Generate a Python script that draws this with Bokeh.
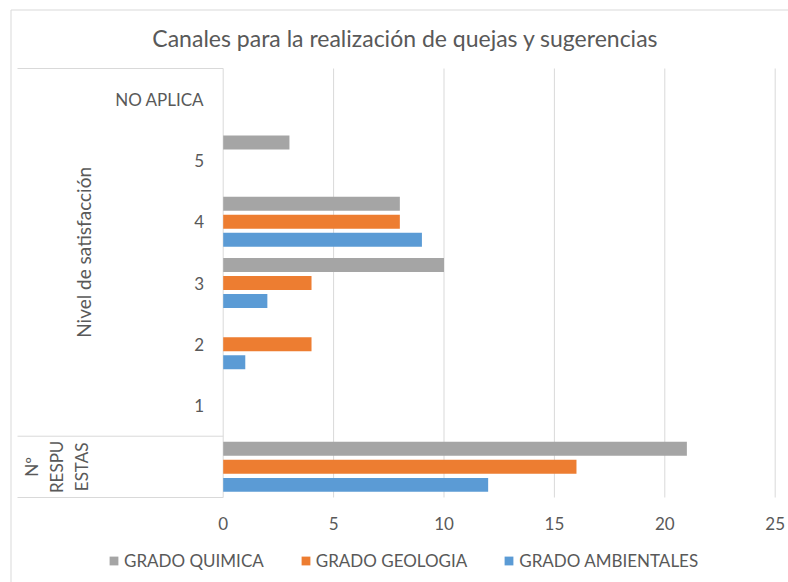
import math
from bokeh.plotting import figure
from bokeh.models import ColumnDataSource, Legend, LegendItem, Range1d
from bokeh.transform import dodge
from bokeh.core.properties import value
from bokeh.embed import file_html
from bokeh.resources import INLINE

# ---------------- data ----------------
title_text = "Canales para la realización de quejas y sugerencias"
groups = ["Nº RESPUESTAS", "Nivel de satisfacción", "Nivel de satisfacción",
          "Nivel de satisfacción", "Nivel de satisfacción", "Nivel de satisfacción",
          "Nivel de satisfacción"]
levels = ["", "1", "2", "3", "4", "5", "NO APLICA"]
series_names = ["GRADO QUIMICA", "GRADO GEOLOGIA", "GRADO AMBIENTALES"]
quimica = [21, 0, 0, 10, 8, 3, 0]
geologia = [16, 0, 4, 4, 8, 0, 0]
ambientales = [12, 0, 1, 2, 9, 0, 0]
x_ticks = [0, 5, 10, 15, 20, 25]

# ---------------- style / layout (pixels) ----------------
FONT = "Lato"
TXT = "#595959"
GRID = "#D9D9D9"
colors = ["#A5A5A5", "#ED7D31", "#5B9BD5"]
offsets = [0.294, 0.0, -0.294]
bar_h = 0.228
W, H = 788, 582
FL, FT = 9, 8                 # frame left / top on the page
X0PX, SX = 222.7, 22.08       # pixel of value 0, pixels per unit
CAT_TOP, CAT_BOT = 68, 497    # pixel edges of the category area


def wrap_chunks(s, n):
    out = []
    for w in s.split():
        out += [w[i:i + n] for i in range(0, len(w), n)]
    return "\n".join(out)


pos = list(range(len(levels)))             # category positions, bottom to top
y_lo, y_hi = pos[0] - 0.5, pos[-1] + 0.5   # edges of the category area
row_px = (CAT_BOT - CAT_TOP) / len(pos)
group_names = list(dict.fromkeys(groups))
group_pos = [sum(p_ for p_, g in zip(pos, groups) if g == gn) / groups.count(gn) for gn in group_names]

x_start, x_end = (FL - X0PX) / SX, (W - X0PX) / SX
y_start, y_end = y_lo - (H - CAT_BOT) / row_px, y_hi + (CAT_TOP - FT) / row_px

p = figure(frame_width=W - FL, frame_height=H - FT,
           y_range=Range1d(y_start, y_end), x_range=Range1d(x_start, x_end),
           output_backend="svg", toolbar_location=None,
           x_axis_location=None, y_axis_location=None,
           min_border_left=FL, min_border_right=0, min_border_top=FT, min_border_bottom=0)
p.outline_line_color = None
p.background_fill_color = "white"
p.border_fill_color = "white"
p.xgrid.visible = False
p.ygrid.visible = False

# chart border (left and top edges visible)
bx = (10.5 - X0PX) / SX
by = y_hi + (CAT_TOP - 9.5) / row_px
p.segment(x0=[bx, bx], y0=[by, by], x1=[bx, x_end], y1=[y_start, by], line_color=GRID, line_width=1)

# vertical grid lines over the category area
p.segment(x0=x_ticks, x1=x_ticks, y0=y_lo, y1=y_hi, line_color=GRID, line_width=1)

src = ColumnDataSource(dict(y=pos, q=quimica, g=geologia, a=ambientales))
renderers = []
for col, color, off in zip(["q", "g", "a"], colors, offsets):
    r = p.hbar(y=dodge("y", off), left=0, right=col, height=bar_h,
               source=src, fill_color=color, line_color=None)
    renderers.append(r)

# category (level) labels
lab_src = ColumnDataSource(dict(y=pos, text=levels))
p.text(x=0, y="y", text="text", source=lab_src, x_offset=-19, text_align="right",
       text_baseline="middle", text_font=value(FONT), text_font_size="17px", text_color=TXT)

# group labels
p.text(x=[0], y=[group_pos[0]], text=[wrap_chunks(group_names[0], 5)],
       x_offset=-166.7, angle=math.pi / 2, text_align="center", text_baseline="middle",
       text_line_height=1.2, text_font=value(FONT), text_font_size="17px", text_color=TXT)
p.text(x=[0], y=[group_pos[1]], text=[group_names[1]],
       x_offset=-139.7, angle=math.pi / 2, text_align="center", text_baseline="middle",
       text_font=value(FONT), text_font_size="19px", text_color=TXT)

# separators of the category axis (bottom, between groups, top)
sep_y = [y_lo, pos[groups.index(group_names[1])] - 0.5, y_hi]
p.segment(x0=(17 - X0PX) / SX, x1=0, y0=sep_y, y1=sep_y, line_color=GRID, line_width=1)

# value-axis tick labels
p.text(x=x_ticks, y=y_lo, text=[str(t) for t in x_ticks], y_offset=26,
       text_align="center", text_baseline="middle", text_font=value(FONT),
       text_font_size="17px", text_color=TXT)

# title
p.text(x=[0], y=[y_hi], text=[title_text], x_offset=405 - X0PX, y_offset=-(CAT_TOP - 37),
       text_align="center", text_baseline="middle", text_font=value(FONT),
       text_font_size="23px", text_color=TXT)

legend = Legend(items=[LegendItem(label=n, renderers=[r]) for n, r in zip(series_names, renderers)],
                orientation="horizontal", location=(108 - FL, 11), border_line_color=None,
                background_fill_alpha=0, label_text_font=FONT, label_text_font_size="17px",
                label_text_color=TXT, glyph_width=11, glyph_height=11, label_standoff=5,
                spacing=36, padding=0, margin=0)
p.add_layout(legend, "center")

open("out.html", "w").write(file_html(p, INLINE))
